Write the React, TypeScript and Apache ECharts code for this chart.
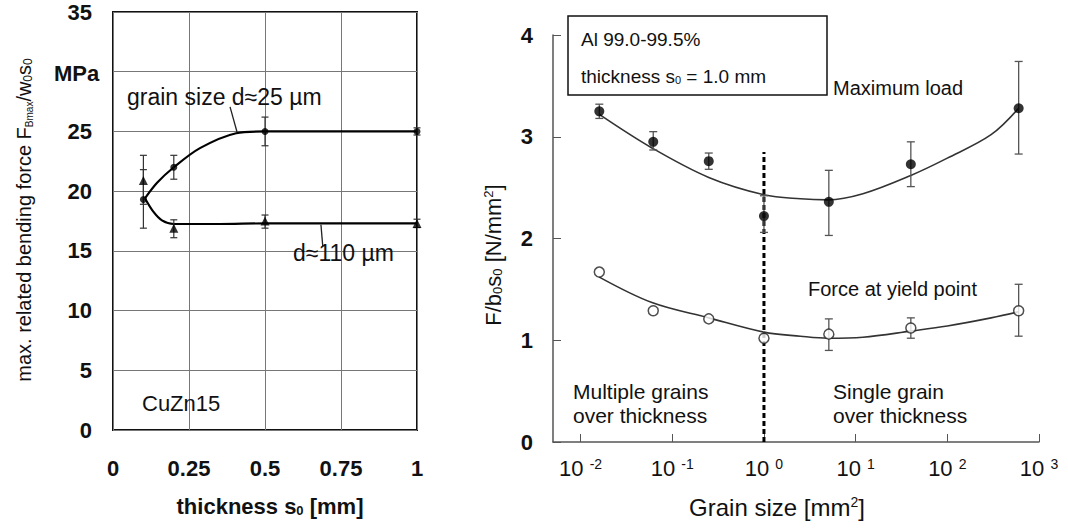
import React, { useEffect, useRef } from 'react';
import * as echarts from 'echarts';

const FONT = "'Liberation Sans', Arial, Helvetica, sans-serif";

// ---- Left chart: CuZn15, bending force vs thickness ----
const thicknessTicks = [0, 0.25, 0.5, 0.75, 1];
const thickness = [0.1, 0.2, 0.5, 1.0];
const force25 = [19.3, 22.0, 25.0, 25.0];
const force25Low = [16.9, 21.0, 23.8, 24.7];
const force25High = [23.0, 23.0, 26.2, 25.3];
const force110 = [20.9, 16.9, 17.5, 17.3];
const force110Low = [18.9, 16.1, 16.9, 16.95];
const force110High = [21.8, 17.6, 18.0, 17.65];
const fit25X = [0.105, 0.145, 0.2, 0.286, 0.405, 0.5, 0.75, 1.0];
const fit25Y = [19.4, 20.7, 22.0, 23.6, 24.85, 25.0, 25.0, 25.0];
const fit110X = [0.105, 0.132, 0.161, 0.2, 0.35, 0.5, 0.75, 1.0];
const fit110Y = [19.4, 18.3, 17.55, 17.25, 17.25, 17.3, 17.3, 17.3];
const leader25 = [[0.385, 27.05], [0.408, 24.95]];
const leader110 = [[0.684, 17.2], [0.69, 15.4]];

// ---- Right chart: Al 99.0-99.5%, force vs grain size ----
const grainSize = [0.016, 0.062, 0.25, 1.0, 5.1, 40, 600];
const maxLoad = [3.25, 2.95, 2.76, 2.22, 2.36, 2.73, 3.28];
const maxLoadLow = [3.18, 2.87, 2.68, 2.06, 2.03, 2.51, 2.83];
const maxLoadHigh = [3.32, 3.05, 2.84, 2.42, 2.67, 2.95, 3.74];
const yieldForce = [1.67, 1.29, 1.21, 1.02, 1.06, 1.12, 1.29];
const yieldLow = [null, null, null, null, 0.9, 1.02, 1.04];
const yieldHigh = [null, null, null, null, 1.21, 1.22, 1.55];
const fitX = [0.016, 0.06, 0.25, 1, 2.5, 5, 12, 40, 100, 300, 600];
const fitMaxY = [3.22, 2.89, 2.6, 2.43, 2.39, 2.38, 2.44, 2.62, 2.79, 3.02, 3.28];
const fitYieldY = [1.62, 1.37, 1.22, 1.08, 1.04, 1.02, 1.03, 1.09, 1.14, 1.22, 1.28];
const boundary = [[1, 0], [1, 2.85]];

const zip = (a: number[], b: (number | null)[]) => a.map((v, i) => [v, b[i]]);

function errorBars(half: number, color: string, lw: number) {
  return (params: any, api: any) => {
    const x = api.value(0);
    const lo = api.value(1);
    const hi = api.value(2);
    const t = api.coord([x, hi]);
    const b = api.coord([x, lo]);
    const st = { stroke: color, lineWidth: lw };
    return {
      type: 'group',
      children: [
        { type: 'line', shape: { x1: t[0], y1: t[1], x2: b[0], y2: b[1] }, style: st },
        { type: 'line', shape: { x1: t[0] - half, y1: t[1], x2: t[0] + half, y2: t[1] }, style: st },
        { type: 'line', shape: { x1: b[0] - half, y1: b[1], x2: b[0] + half, y2: b[1] }, style: st },
      ],
    };
  };
}

const tok = (size: number, va: string, weight = 'normal') => ({
  fontSize: size,
  fontFamily: FONT,
  fontWeight: weight,
  verticalAlign: va,
  fill: '#111',
  color: '#111',
});

function txt(text: string, x: number, y: number, size: number, opts: any = {}) {
  const weight = opts.weight || 'normal';
  return {
    type: 'text',
    x,
    y,
    rotation: opts.rotation || 0,
    z: 100,
    style: {
      text,
      fill: '#111',
      fontSize: size,
      fontFamily: FONT,
      fontWeight: weight,
      align: opts.align || 'left',
      textAlign: opts.align || 'left',
      verticalAlign: 'middle',
      textVerticalAlign: 'middle',
      rich: {
        sub: tok(Math.round(size * 0.6), 'bottom', weight),
        subs: tok(Math.round(size * 0.48), 'bottom', weight),
        sup: tok(Math.round(size * 0.6), 'top', weight),
      },
    },
  };
}

const option: any = {
  animation: false,
  backgroundColor: '#fff',
  grid: [
    { left: 113, top: 12, width: 304, height: 418, show: true, borderColor: '#111', borderWidth: 2, backgroundColor: 'transparent' },
    { left: 553, top: 35, width: 486, height: 407, show: false },
  ],
  xAxis: [
    {
      gridIndex: 0,
      type: 'value',
      min: thicknessTicks[0],
      max: thicknessTicks[thicknessTicks.length - 1],
      interval: 0.25,
      axisLine: { show: false },
      axisTick: { show: false },
      splitLine: { show: true, lineStyle: { color: '#777', width: 1 } },
      axisLabel: { fontSize: 22, fontWeight: 'bold', fontFamily: FONT, color: '#111', margin: 27 },
    },
    {
      gridIndex: 1,
      type: 'log',
      logBase: 10,
      min: 0.005,
      max: 1000,
      axisLine: { show: true, lineStyle: { color: '#555', width: 1.5 } },
      axisTick: { show: true, inside: true, length: 8, lineStyle: { color: '#555', width: 1 } },
      splitLine: { show: false },
      axisLabel: {
        showMinLabel: false,
        margin: 15,
        fontSize: 22,
        fontFamily: FONT,
        color: '#111',
        formatter: (v: number) => '10 {sup|' + Math.round(Math.log10(v)) + '}',
        rich: { sup: tok(14, 'top') },
      },
    },
  ],
  yAxis: [
    {
      gridIndex: 0,
      type: 'value',
      min: 0,
      max: 35,
      interval: 5,
      axisLine: { show: false },
      axisTick: { show: false },
      splitLine: { show: true, lineStyle: { color: '#777', width: 1 } },
      axisLabel: {
        fontSize: 22, fontWeight: 'bold', fontFamily: FONT, color: '#111', margin: 21,
        formatter: (v: number) => (v === 30 ? '' : String(v)),
      },
    },
    {
      gridIndex: 1,
      type: 'value',
      min: 0,
      max: 4,
      interval: 1,
      axisLine: { show: true, lineStyle: { color: '#555', width: 1.5 } },
      axisTick: { show: true, inside: true, length: 8, lineStyle: { color: '#555', width: 1 } },
      splitLine: { show: false },
      axisLabel: { fontSize: 22, fontWeight: 'bold', fontFamily: FONT, color: '#111', margin: 20 },
    },
  ],
  series: [
    // left chart
    {
      type: 'line', xAxisIndex: 0, yAxisIndex: 0, data: zip(fit25X, fit25Y), smooth: 0.3,
      showSymbol: false, symbol: 'none', lineStyle: { color: '#000', width: 2.2 }, z: 3,
    },
    {
      type: 'line', xAxisIndex: 0, yAxisIndex: 0, data: zip(fit110X, fit110Y), smooth: 0.3,
      showSymbol: false, symbol: 'none', lineStyle: { color: '#000', width: 2.2 }, z: 3,
    },
    {
      type: 'line', xAxisIndex: 0, yAxisIndex: 0, data: leader25, symbol: 'none', lineStyle: { color: '#222', width: 1.3 }, z: 3,
    },
    {
      type: 'line', xAxisIndex: 0, yAxisIndex: 0, data: leader110, symbol: 'none', lineStyle: { color: '#222', width: 1.3 }, z: 3,
    },
    {
      type: 'custom', xAxisIndex: 0, yAxisIndex: 0, renderItem: errorBars(3.5, '#333', 1.2),
      encode: { x: 0, y: [1, 2] }, data: thickness.map((t, i) => [t, force25Low[i], force25High[i]]), z: 4,
    },
    {
      type: 'custom', xAxisIndex: 0, yAxisIndex: 0, renderItem: errorBars(3.5, '#333', 1.2),
      encode: { x: 0, y: [1, 2] }, data: thickness.map((t, i) => [t, force110Low[i], force110High[i]]), z: 4,
    },
    {
      type: 'scatter', xAxisIndex: 0, yAxisIndex: 0, data: zip(thickness, force25), symbol: 'circle', symbolSize: 7,
      itemStyle: { color: '#000' }, z: 5,
    },
    {
      type: 'scatter', xAxisIndex: 0, yAxisIndex: 0, data: zip(thickness, force110), symbol: 'triangle', symbolSize: 9,
      itemStyle: { color: '#000' }, z: 5,
    },
    // right chart
    {
      type: 'line', xAxisIndex: 1, yAxisIndex: 1, data: zip(fitX, fitMaxY), smooth: 0.35,
      showSymbol: false, symbol: 'none', lineStyle: { color: '#333', width: 1.6 }, z: 3,
    },
    {
      type: 'line', xAxisIndex: 1, yAxisIndex: 1, data: zip(fitX, fitYieldY), smooth: 0.35,
      showSymbol: false, symbol: 'none', lineStyle: { color: '#333', width: 1.6 }, z: 3,
    },
    {
      type: 'line', xAxisIndex: 1, yAxisIndex: 1, data: boundary, symbol: 'none',
      lineStyle: { color: '#000', width: 3, type: [5, 3] }, z: 2,
    },
    {
      type: 'custom', xAxisIndex: 1, yAxisIndex: 1, renderItem: errorBars(4, '#555', 1.3),
      encode: { x: 0, y: [1, 2] }, data: grainSize.map((g, i) => [g, maxLoadLow[i], maxLoadHigh[i]]), z: 4,
    },
    {
      type: 'custom', xAxisIndex: 1, yAxisIndex: 1, renderItem: errorBars(4, '#555', 1.3),
      encode: { x: 0, y: [1, 2] },
      data: grainSize.map((g, i) => [g, yieldLow[i], yieldHigh[i]]).filter((d) => d[1] !== null), z: 4,
    },
    {
      type: 'scatter', xAxisIndex: 1, yAxisIndex: 1, data: zip(grainSize, maxLoad), symbol: 'circle', symbolSize: 10,
      itemStyle: { color: '#000' }, z: 5,
    },
    {
      type: 'scatter', xAxisIndex: 1, yAxisIndex: 1, data: zip(grainSize, yieldForce), symbol: 'circle', symbolSize: 10,
      itemStyle: { color: '#fff', borderColor: '#222', borderWidth: 1.5 }, z: 5,
    },
  ],
  graphic: [
    // left chart texts
    txt('max. related bending force F{subs|Bmax}/w{sub|0}s{sub|0}', 24, 220, 20, { rotation: Math.PI / 2, align: 'center' }),
    txt('thickness s{sub|0} [mm]', 270, 506, 22, { weight: 'bold', align: 'center' }),
    txt('MPa', 54, 73, 22, { weight: 'bold' }),
    txt('grain size d\u224825 \u00b5m', 127, 97, 23),
    txt('d\u2248110 \u00b5m', 293, 253, 23),
    txt('CuZn15', 142, 403, 22),
    // right chart texts
    {
      type: 'rect', z: 90,
      shape: { x: 568, y: 16, width: 259, height: 79 },
      style: { fill: '#fff', stroke: '#111', lineWidth: 1.5 },
    },
    txt('Al 99.0-99.5%', 581, 39, 19),
    txt('thickness s{sub|0} = 1.0 mm', 581, 76, 19),
    txt('Maximum load', 833, 88, 20),
    txt('Force at yield point', 808, 289, 20),
    txt('Multiple grains', 573, 391, 21),
    txt('over thickness', 573, 415, 21),
    txt('Single grain', 833, 391, 21),
    txt('over thickness', 833, 415, 21),
    txt('F/b{sub|0}s{sub|0} [N/mm{sup|2}]', 493, 255, 22, { rotation: Math.PI / 2, align: 'center' }),
    txt('Grain size [mm{sup|2}]', 777, 507, 24, { align: 'center' }),
  ],
};

export default function App() {
  const ref = useRef<HTMLDivElement>(null);
  useEffect(() => {
    const chart = echarts.init(ref.current as HTMLDivElement, null, { renderer: 'svg' });
    chart.setOption(option);
    return () => chart.dispose();
  }, []);
  return (
    <div
      ref={ref}
      style={{ position: 'fixed', left: 0, top: 0, width: 1068, height: 531, background: '#fff' }}
    />
  );
}
